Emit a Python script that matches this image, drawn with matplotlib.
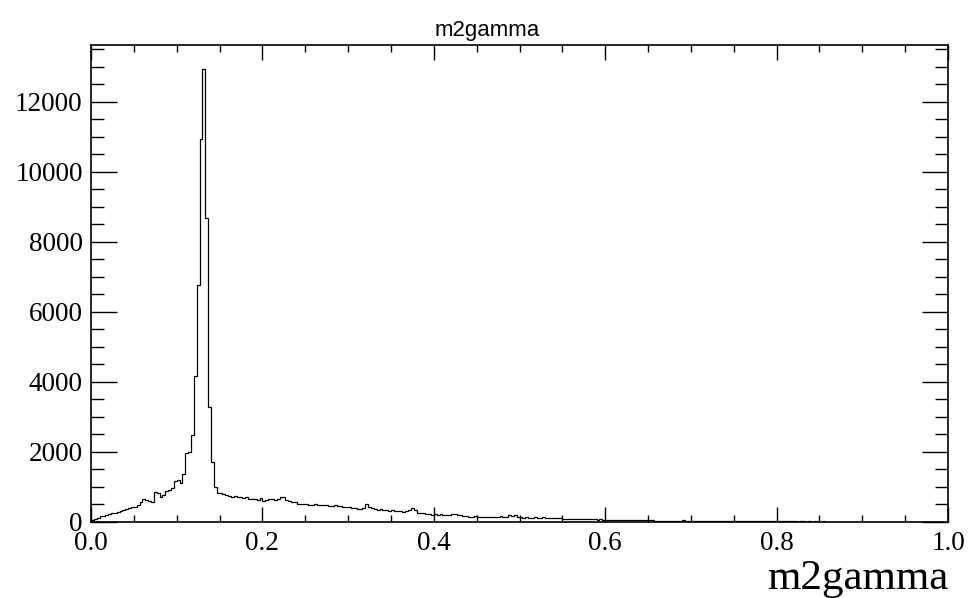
import numpy as np
import matplotlib
matplotlib.use("Agg")
from matplotlib import pyplot as plt
from matplotlib.ticker import MultipleLocator

# histogram m2gamma, 300 bins from 0 to 1
xmin, xmax = 0.0, 1.0
nbins = 300
counts = [
    40, 90, 120, 150, 175, 200, 215, 245, 255, 280,
    300, 330, 370, 385, 410, 430, 465, 560, 650, 610,
    600, 575, 840, 810, 710, 760, 880, 910, 960, 1160,
    1180, 1100, 1350, 1960, 1990, 2480, 4160, 6770, 10930, 12930,
    8670, 3290, 1700, 990, 830, 810, 800, 770, 730, 720,
    740, 700, 720, 690, 720, 660, 640, 650, 620, 670,
    580, 610, 640, 650, 630, 640, 700, 720, 610, 600,
    570, 560, 510, 520, 500, 510, 490, 480, 500, 470,
    490, 480, 470, 460, 450, 470, 440, 460, 420, 430,
    410, 380, 390, 370, 360, 390, 500, 420, 380, 370,
    340, 350, 330, 345, 320, 340, 310, 300, 295, 280,
    300, 330, 380, 340, 260, 240, 250, 230, 220, 200,
    210, 195, 230, 200, 190, 185, 215, 220, 200, 190,
    160, 150, 145, 140, 150, 145, 140, 135, 145, 140,
    135, 140, 130, 150, 145, 140, 180, 150, 190, 140,
    125, 120, 130, 120, 115, 125, 120, 110, 125, 115,
    110, 105, 120, 100, 95, 90, 85, 80, 75, 85,
    78, 70, 80, 72, 65, 78, 70, 62, 68, 60,
    55, 50, 52, 48, 45, 55, 50, 44, 48, 46,
    42, 40, 48, 38, 35, 40, 36, 30, 34, 28,
    30, 26, 32, 24, 28, 22, 25, 35, 30, 22,
    20, 24, 30, 18, 22, 28, 20, 16, 18, 15,
    18, 14, 16, 12, 15, 13, 20, 12, 10, 14,
    11, 12, 9, 10, 14, 8, 10, 9, 7, 11,
    8, 7, 9, 6, 8, 10, 6, 5, 7, 6,
    5, 6, 4, 7, 5, 4, 6, 3, 5, 4,
    4, 3, 5, 3, 2, 4, 3, 2, 3, 4,
    2, 3, 2, 1, 3, 2, 2, 1, 2, 1,
    1, 2, 1, 1, 2, 1, 0, 1, 1, 0,
    1, 0, 1, 0, 0, 1, 0, 0, 1, 0,
]
xticks = [0.0, 0.2, 0.4, 0.6, 0.8, 1.0]
xticklabels = ["0.0", "0.2", "0.4", "0.6", "0.8", "1.0"]
yticks = [0, 2000, 4000, 6000, 8000, 10000, 12000]
titulo = "m2gamma"
rotulo_x = "m2gamma"

fig = plt.figure(figsize=(9.75, 5.98), dpi=100)
ax = fig.add_axes([91/975, 1-521.7/598, (948-91)/975, (521.7-45)/598])

edges = np.linspace(xmin, xmax, nbins + 1)
ax.stairs(counts, edges, color="black", linewidth=0.9, baseline=0)

ax.set_xlim(xmin, xmax)
ax.set_ylim(0, 13620)

ax.set_xticks(xticks)
ax.set_xticklabels(xticklabels)
ax.set_yticks(yticks)
ax.set_yticklabels([str(v) for v in yticks])
ax.xaxis.set_minor_locator(MultipleLocator(0.05))
ax.yaxis.set_minor_locator(MultipleLocator(500))

ax.tick_params(axis="both", which="both", direction="in", top=True, right=True,
               width=1.0, colors="black")
ax.tick_params(axis="x", which="major", length=10.5, pad=7)
ax.tick_params(axis="x", which="minor", length=5.3)
ax.tick_params(axis="y", which="major", length=18.5, pad=6)
ax.tick_params(axis="y", which="minor", length=9.3)

for lab in ax.get_xticklabels() + ax.get_yticklabels():
    lab.set_fontfamily("Liberation Serif")
    lab.set_fontsize(19.5)

for s in ax.spines.values():
    s.set_linewidth(1.2)
    s.set_color("black")

fig.text(0.5, 1-36/598, titulo, ha="center", va="baseline",
         fontfamily="Liberation Sans", fontsize=16)
fig.text(948/975, 1-589/598, rotulo_x, ha="right", va="baseline",
         fontfamily="Liberation Serif", fontsize=31)

fig.savefig("out.png", dpi=100)
